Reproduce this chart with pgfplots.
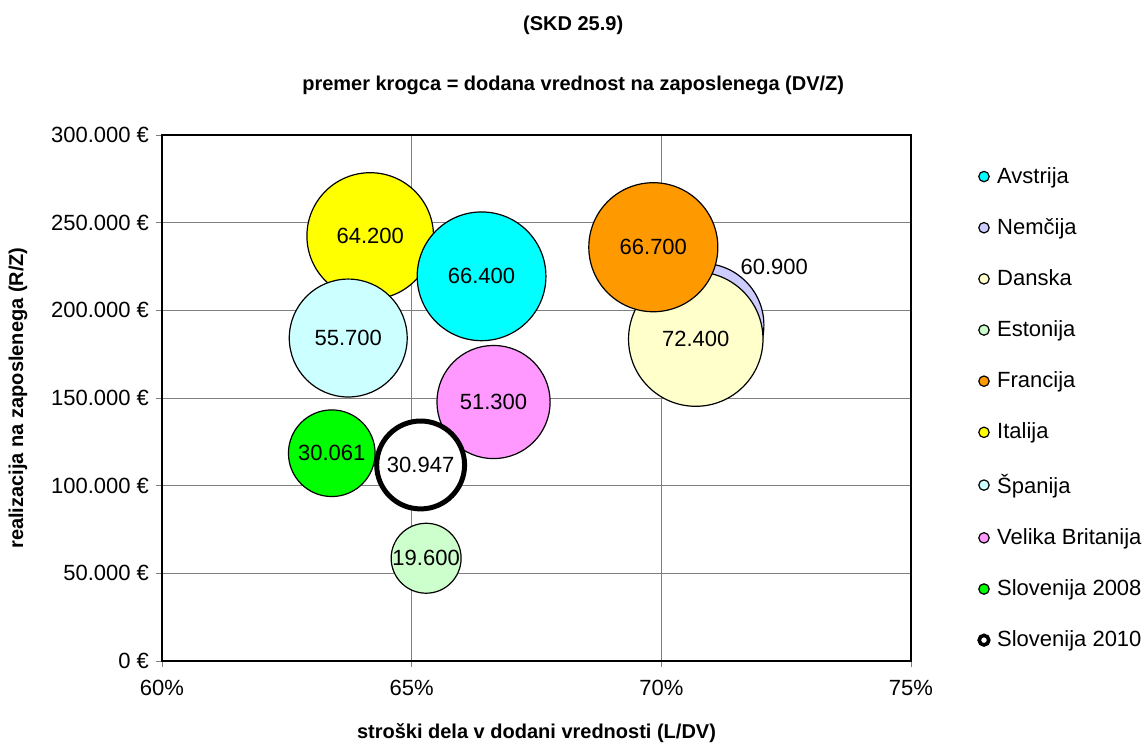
\documentclass[border=0pt]{standalone}
\usepackage{fontspec}
\setmainfont{Liberation Sans}
\usepackage{pgfplots}
\pgfplotsset{compat=1.18}

\definecolor{cAvs}{HTML}{00FFFF}
\definecolor{cNem}{HTML}{CCCCFF}
\definecolor{cDan}{HTML}{FFFFCC}
\definecolor{cEst}{HTML}{CCFFCC}
\definecolor{cFra}{HTML}{FF9900}
\definecolor{cIta}{HTML}{FFFF00}
\definecolor{cSpa}{HTML}{CCFFFF}
\definecolor{cVB}{HTML}{FF99FF}
\definecolor{cSlo}{HTML}{00FF00}

% bubble: v in thousands of EUR, radius grows with sqrt(v), label in the middle
\pgfplotsset{
  label dx/.initial=0pt,
  label dy/.initial=0pt,
  bubble/.style={
    only marks, mark=*, forget plot, scatter,
    visualization depends on={\thisrow{v} \as \vv},
    scatter/@pre marker code/.code={%
      \pgfmathsetmacro\rr{3.95*sqrt(\vv)}%
      \scope[mark size=\rr pt, draw=black, fill=#1]},
    scatter/@post marker code/.code={%
      \endscope
      \pgftext[at=\pgfpoint{\pgfkeysvalueof{/pgfplots/label dx}}{\pgfkeysvalueof{/pgfplots/label dy}}]{%
        \fontsize{11}{13}\selectfont\pgfmathprintnumber[fixed,fixed zerofill,precision=3,use period]{\vv}}},
    mark options={line width=0.6pt},
  },
  legbub/.style={only marks, mark=*, mark size=2.6pt, mark options={fill=#1, draw=black, line width=0.6pt}},
}

\begin{document}
\begin{tikzpicture}
\begin{axis}[
  scale only axis,
  width=374.5pt, height=263pt,
  xmin=60, xmax=75, ymin=0, ymax=300000,
  xtick={60,65,70,75},
  ytick={0,50000,...,300000},
  scaled ticks=false,
  /pgf/number format/assume math mode=true,
  xticklabel={\pgfmathprintnumber{\tick}\%},
  yticklabel={\pgfmathprintnumber[fixed,precision=0,1000 sep={.}]{\tick}~€},
  tick label style={font=\fontsize{11}{13}\selectfont},
  xtick pos=left, ytick pos=left,
  tick align=outside,
  major tick length=3pt,
  xticklabel style={yshift=-3pt},
  grid=major,
  major grid style={black!50, line width=0.4pt},
  axis line style={black, line width=0.8pt},
  clip=false,
  xlabel={stroški dela v dodani vrednosti (L/DV)},
  ylabel={realizacija na zaposlenega (R/Z)},
  label style={font=\fontsize{10}{12}\selectfont\bfseries},
  xlabel style={at={(axis description cs:0.5,-0.137)}, anchor=center},
  ylabel style={at={(axis description cs:-0.1923,0.5)}, anchor=center},
  legend style={at={(axis description cs:1.082,0.955)}, anchor=north west,
    draw=none, fill=none, row sep=12.1pt,
    font=\fontsize{11}{13}\selectfont,
    nodes={inner xsep=4pt}},
  legend cell align=left,
]
\addlegendimage{legbub=cAvs}\addlegendentry{Avstrija}
\addlegendimage{legbub=cNem}\addlegendentry{Nemčija}
\addlegendimage{legbub=cDan}\addlegendentry{Danska}
\addlegendimage{legbub=cEst}\addlegendentry{Estonija}
\addlegendimage{legbub=cFra}\addlegendentry{Francija}
\addlegendimage{legbub=cIta}\addlegendentry{Italija}
\addlegendimage{legbub=cSpa}\addlegendentry{Španija}
\addlegendimage{legbub=cVB}\addlegendentry{Velika Britanija}
\addlegendimage{legbub=cSlo}\addlegendentry{Slovenija 2008}
\addlegendimage{only marks, mark=*, mark size=2.4pt, mark options={fill=white, draw=black, line width=1.8pt}}\addlegendentry{Slovenija 2010}

% Nemčija (label moved up-right)
\addplot[bubble=cNem, label dx=36pt, label dy=29pt]
  table[row sep=\\] {x y v\\ 70.82 191600 60.900\\};
% Danska
\addplot[bubble=cDan] table[row sep=\\] {x y v\\ 70.69 183600 72.400\\};
% Francija
\addplot[bubble=cFra] table[row sep=\\] {x y v\\ 69.84 236000 66.700\\};
% Italija
\addplot[bubble=cIta] table[row sep=\\] {x y v\\ 64.17 242400 64.200\\};
% Avstrija
\addplot[bubble=cAvs] table[row sep=\\] {x y v\\ 66.40 219400 66.400\\};
% Španija
\addplot[bubble=cSpa] table[row sep=\\] {x y v\\ 63.73 184200 55.700\\};
% Velika Britanija
\addplot[bubble=cVB] table[row sep=\\] {x y v\\ 66.64 147700 51.300\\};
% Slovenija 2008
\addplot[bubble=cSlo] table[row sep=\\] {x y v\\ 63.40 118500 30.061\\};
% Estonija
\addplot[bubble=cEst] table[row sep=\\] {x y v\\ 65.29 58600 19.600\\};
% Slovenija 2010
\addplot[bubble=white, mark options={line width=2.5pt}] table[row sep=\\] {x y v\\ 65.18 111800 30.947\\};

\node[font=\fontsize{10}{12}\selectfont\bfseries, anchor=base] at (rel axis cs:0.549,1.198) {(SKD 25.9)};
\node[font=\fontsize{10}{12}\selectfont\bfseries, anchor=base] at (rel axis cs:0.549,1.0837) {premer krogca = dodana vrednost na zaposlenega (DV/Z)};
\coordinate (bbsw) at (rel axis cs:-0.2163,-0.1578);
\coordinate (bbne) at (rel axis cs:1.3138,1.2567);
\end{axis}
\pgfresetboundingbox
\path (bbsw) rectangle (bbne);
\end{tikzpicture}
\end{document}
